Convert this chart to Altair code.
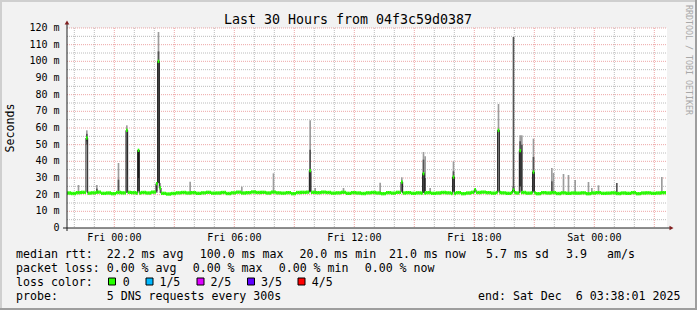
import altair as alt
import pandas as pd

# ---------------- data ----------------
title_text = "Last 30 Hours from 04f3c59d0387"
y_title = "Seconds"
watermark = "RRDTOOL / TOBI OETIKER"

range_start = "2025-12-04 21:38:01"
range_end = "2025-12-06 03:38:01"
first_step = "2025-12-04 21:35:00"   # 5-minute steps (300 s probe)

y_ticks = [0, 10, 20, 30, 40, 50, 60, 70, 80, 90, 100, 110, 120]
y_tick_labels = ["0", "10 m", "20 m", "30 m", "40 m", "50 m", "60 m", "70 m",
                 "80 m", "90 m", "100 m", "110 m", "120 m"]
x_ticks = ["2025-12-05 00:00", "2025-12-05 06:00", "2025-12-05 12:00",
           "2025-12-05 18:00", "2025-12-06 00:00"]
x_tick_labels = ["Fri 00:00", "Fri 06:00", "Fri 12:00", "Fri 18:00", "Sat 00:00"]

# baseline median rtt (ms), one value per 15 minutes from Thu 21:35
base_median = [
    21.0, 20.7, 21.2, 21.4, 20.9, 21.1, 21.5, 20.8, 21.0, 20.6, 21.3, 21.1,
    21.4, 21.2, 20.9, 21.3, 21.0, 21.5, 21.2, 20.8, 20.4, 20.7, 21.1, 21.3,
    21.0, 21.2, 20.8, 21.1, 21.4, 20.9, 21.0, 21.3, 20.7, 21.1, 21.5, 21.0,
    21.2, 21.6, 21.3, 21.4, 21.0, 21.5, 21.1, 20.9, 21.2, 20.6, 21.3, 21.4,
    21.5, 21.4, 21.2, 21.5, 21.3, 20.9, 21.1, 21.4, 20.8, 21.2, 21.0, 20.7,
    21.1, 21.3, 21.0, 20.6, 21.2, 20.9, 21.4, 21.0, 21.2, 20.8, 21.1, 20.9,
    21.2, 20.8, 21.0, 21.3, 21.1, 20.7, 21.2, 20.6, 21.0, 21.4, 21.3, 21.5,
    21.2, 20.9, 21.3, 21.1, 20.8, 21.2, 21.0, 21.3, 20.9, 21.1, 20.6, 21.2,
    21.0, 21.2, 20.7, 21.1, 20.8, 21.0, 20.9, 21.1, 20.6, 21.0, 21.2, 20.8,
    20.9, 21.1, 20.7, 21.0, 20.8, 21.2, 20.6, 21.0, 21.1, 20.8, 21.0, 21.2,
]

# 5-minute steps whose median departs from the baseline
spike_time = ["2025-12-04 22:35", "2025-12-05 00:35", "2025-12-05 01:10",
              "2025-12-05 02:05", "2025-12-05 02:10", "2025-12-05 02:15",
              "2025-12-05 09:45", "2025-12-05 14:20", "2025-12-05 15:25",
              "2025-12-05 16:55", "2025-12-05 18:00", "2025-12-05 19:10",
              "2025-12-05 19:55", "2025-12-05 20:15", "2025-12-05 20:55"]
spike_median = [54.0, 58.6, 46.6, 26.6, 100.0, 24.0, 34.4, 27.6, 32.6,
                30.6, 23.0, 58.6, 22.8, 46.4, 33.6]

# smoke (spread of the 5 pings): step start, low, high, shade
smoke = [
    ("2025-12-04 22:10", 20.5, 25.8, "L"),
    ("2025-12-04 22:35", 50.0, 58.6, "L"),
    ("2025-12-04 22:35", 52.0, 56.5, "M"),
    ("2025-12-04 23:05", 20.5, 25.8, "L"),
    ("2025-12-04 23:05", 21.0, 23.6, "M"),
    ("2025-12-05 00:10", 22.0, 39.0, "L"),
    ("2025-12-05 00:10", 22.0, 29.0, "M"),
    ("2025-12-05 00:35", 21.0, 61.6, "L"),
    ("2025-12-05 00:35", 32.0, 58.6, "D"),
    ("2025-12-05 01:10", 22.0, 30.0, "M"),
    ("2025-12-05 01:10", 30.0, 46.6, "D"),
    ("2025-12-05 02:05", 21.0, 27.2, "L"),
    ("2025-12-05 02:05", 22.0, 26.6, "M"),
    ("2025-12-05 02:10", 27.0, 117.6, "L"),
    ("2025-12-05 02:10", 27.0, 106.0, "M"),
    ("2025-12-05 02:10", 27.0, 100.0, "D"),
    ("2025-12-05 02:15", 21.0, 27.0, "L"),
    ("2025-12-05 03:45", 21.0, 27.8, "L"),
    ("2025-12-05 06:20", 21.0, 24.8, "L"),
    ("2025-12-05 07:55", 21.0, 32.8, "L"),
    ("2025-12-05 09:45", 22.0, 64.6, "L"),
    ("2025-12-05 09:45", 22.0, 47.0, "M"),
    ("2025-12-05 09:45", 22.0, 34.4, "D"),
    ("2025-12-05 10:00", 21.0, 24.0, "L"),
    ("2025-12-05 11:25", 21.0, 24.0, "L"),
    ("2025-12-05 13:15", 21.0, 27.2, "L"),
    ("2025-12-05 14:20", 22.0, 30.4, "L"),
    ("2025-12-05 14:20", 22.0, 27.6, "D"),
    ("2025-12-05 15:25", 21.0, 45.6, "L"),
    ("2025-12-05 15:25", 21.0, 41.0, "M"),
    ("2025-12-05 15:25", 21.0, 33.0, "D"),
    ("2025-12-05 15:30", 22.0, 43.0, "L"),
    ("2025-12-05 15:30", 22.0, 30.0, "M"),
    ("2025-12-05 15:45", 21.0, 24.0, "L"),
    ("2025-12-05 16:55", 22.0, 40.0, "L"),
    ("2025-12-05 16:55", 22.0, 34.0, "M"),
    ("2025-12-05 16:55", 22.0, 30.6, "D"),
    ("2025-12-05 19:10", 22.0, 74.4, "L"),
    ("2025-12-05 19:10", 22.0, 58.6, "D"),
    ("2025-12-05 19:55", 22.0, 114.6, "M"),
    ("2025-12-05 19:55", 22.0, 25.0, "D"),
    ("2025-12-05 20:15", 25.0, 55.6, "L"),
    ("2025-12-05 20:15", 25.0, 52.0, "M"),
    ("2025-12-05 20:15", 25.0, 46.4, "D"),
    ("2025-12-05 20:20", 22.0, 55.6, "L"),
    ("2025-12-05 20:20", 22.0, 50.0, "M"),
    ("2025-12-05 20:55", 22.0, 53.6, "L"),
    ("2025-12-05 20:55", 22.0, 42.6, "M"),
    ("2025-12-05 20:55", 22.0, 33.6, "D"),
    ("2025-12-05 21:50", 21.0, 36.0, "L"),
    ("2025-12-05 21:50", 21.0, 28.0, "M"),
    ("2025-12-05 21:55", 21.0, 33.0, "L"),
    ("2025-12-05 22:25", 21.0, 32.4, "L"),
    ("2025-12-05 22:40", 21.0, 31.8, "L"),
    ("2025-12-05 23:00", 21.0, 28.8, "L"),
    ("2025-12-05 23:40", 21.0, 27.6, "L"),
    ("2025-12-05 23:50", 21.0, 24.0, "L"),
    ("2025-12-06 00:10", 21.0, 25.6, "L"),
    ("2025-12-06 01:05", 21.0, 27.0, "M"),
    ("2025-12-06 03:20", 21.0, 30.6, "L"),
]

legend_rows = [
    ["median rtt:", "22.2 ms avg", "100.0 ms max", "20.0 ms min", "21.0 ms now",
     "5.7 ms sd", "3.9", "am/s"],
    ["packet loss:", "0.00 % avg", "0.00 % max", "0.00 % min", "0.00 % now"],
    ["loss color:", "0", "1/5", "2/5", "3/5", "4/5"],
    ["probe:", "5 DNS requests every 300s", "end: Sat Dec  6 03:38:01 2025"],
]
loss_colors = ["#26ff00", "#00b8ff", "#dd00ff", "#5e00ff", "#ff0000"]

# ---------------- layout (pixels) ----------------
W, H = 600, 200
PAD = {"left": 67, "top": 28, "right": 30, "bottom": 82}
FONT = "DejaVu Sans Mono"
legend_x = [
    [16, 106.7, 199.8, 299.4, 389, 486, 566, 607],
    [16, 106.7, 192.7, 278.7, 364.7],
    [16, 122.7, 159.4, 210.4, 261, 311.7],
    [16, 106.7, 478],
]
legend_y = [258, 271.8, 285.7, 299.7]
square_x = [108.5, 146, 197, 247.5, 298]

# ---------------- build tables ----------------
step = pd.Timedelta(minutes=5)
t_first = pd.Timestamp(first_step)


def iso(ts):
    return pd.Timestamp(ts).strftime("%Y-%m-%dT%H:%M:%SZ")


def dt(ts):
    ts = pd.Timestamp(ts)
    return alt.DateTime(year=ts.year, month=ts.month, date=ts.day,
                        hours=ts.hour, minutes=ts.minute, seconds=ts.second,
                        utc=True)


n = len(base_median) * 3
med = [base_median[k // 3] for k in range(n)]
for t, m in zip(spike_time, spike_median):
    med[int((pd.Timestamp(t) - t_first) / step)] = m
starts = [t_first + k * step for k in range(n)]

steps_df = pd.DataFrame({
    "t0": [iso(t) for t in starts],
    "t1": [iso(t + step) for t in starts],
    "lo": [m - 1.0 for m in med],
    "hi": [m + 1.0 for m in med],
})
line_df = pd.DataFrame({
    "t": [iso(t) for t in starts] + [iso(starts[-1] + step)],
    "median": med + [med[-1]],
})
smoke_df = pd.DataFrame({
    "t0": [iso(s[0]) for s in smoke],
    "t1": [iso(pd.Timestamp(s[0]) + step) for s in smoke],
    "lo": [s[1] for s in smoke],
    "hi": [s[2] for s in smoke],
    "shade": [s[3] for s in smoke],
})
ytick_df = pd.DataFrame({"v": y_ticks, "label": y_tick_labels})
xtick_df = pd.DataFrame({"t": [iso(t) for t in x_ticks], "label": x_tick_labels})

hours = pd.date_range("2025-12-04 22:00", "2025-12-06 03:00", freq="h")
vgrid_minor = pd.DataFrame({"t": [iso(h) for h in hours if h.hour % 3 != 0]})
vgrid_major = pd.DataFrame({"t": [iso(h) for h in hours if h.hour % 3 == 0]})
hgrid_minor = pd.DataFrame({"v": [v for v in range(5, 121, 5) if v % 10]})
hgrid_major = pd.DataFrame({"v": [v for v in range(10, 121, 10)]})
dummy = pd.DataFrame({"d": [0]})

xs = alt.Scale(type="utc", domain=[dt(range_start), dt(range_end)])
ys = alt.Scale(domain=[0, 120], nice=False, zero=False)

layers = []

# grid
layers.append(alt.Chart(vgrid_minor).mark_rule(color="#8f8f8f", opacity=0.6, strokeDash=[1, 1]).encode(
    x=alt.X("t:T", scale=xs, axis=None), y=alt.value(0), y2=alt.value(H)))
layers.append(alt.Chart(hgrid_minor).mark_rule(color="#8f8f8f", opacity=0.6, strokeDash=[1, 1]).encode(
    y=alt.Y("v:Q", scale=ys, axis=None), x=alt.value(0), x2=alt.value(W)))
layers.append(alt.Chart(vgrid_major).mark_rule(color="#de4f4f", opacity=0.5, strokeDash=[1, 1]).encode(
    x=alt.X("t:T", scale=xs, axis=None), y=alt.value(0), y2=alt.value(H)))
layers.append(alt.Chart(hgrid_major).mark_rule(color="#de4f4f", opacity=0.5, strokeDash=[1, 1]).encode(
    y=alt.Y("v:Q", scale=ys, axis=None), x=alt.value(0), x2=alt.value(W)))

# smoke
layers.append(alt.Chart(smoke_df).mark_rect(clip=True).encode(
    x=alt.X("t0:T", scale=xs, axis=None), x2="t1:T",
    y=alt.Y("lo:Q", scale=ys, axis=None), y2="hi:Q",
    color=alt.Color("shade:N", scale=alt.Scale(domain=["L", "M", "D"],
                                               range=["#9c9c9c", "#555555", "#1e1e1e"]),
                    legend=None),
    order=alt.Order("shade:N")))

# median line (dark) and loss-coloured median band
layers.append(alt.Chart(line_df).mark_line(interpolate="step-after", color="#1a1a1a",
                                           strokeWidth=1, clip=True).encode(
    x=alt.X("t:T", scale=xs, axis=None), y=alt.Y("median:Q", scale=ys, axis=None)))
layers.append(alt.Chart(steps_df).mark_rect(color=loss_colors[0], clip=True).encode(
    x=alt.X("t0:T", scale=xs, axis=None), x2="t1:T",
    y=alt.Y("lo:Q", scale=ys, axis=None), y2="hi:Q"))

# tick labels
layers.append(alt.Chart(ytick_df).mark_text(font=FONT, fontSize=10, color="#000000",
                                            align="right", baseline="middle").encode(
    y=alt.Y("v:Q", scale=ys, axis=None), x=alt.value(-7.5), text="label:N"))
layers.append(alt.Chart(xtick_df).mark_text(font=FONT, fontSize=10, color="#000000",
                                            align="center", baseline="alphabetic").encode(
    x=alt.X("t:T", scale=xs, axis=None), y=alt.value(240.7 - PAD["top"]), text="label:N"))

# axis lines and arrows
layers.append(alt.Chart(dummy).mark_rule(color="#1f1f1f", strokeWidth=1).encode(
    x=alt.value(-4), x2=alt.value(W + 3), y=alt.value(H)))
layers.append(alt.Chart(dummy).mark_rule(color="#1f1f1f", strokeWidth=1).encode(
    x=alt.value(0), y=alt.value(H + 3), y2=alt.value(-4)))
layers.append(alt.Chart(dummy).mark_point(shape="triangle-right", filled=True, size=22,
                                          color="#801f1f", opacity=1).encode(
    x=alt.value(W + 4.5), y=alt.value(H)))
layers.append(alt.Chart(dummy).mark_point(shape="triangle-up", filled=True, size=22,
                                          color="#801f1f", opacity=1).encode(
    x=alt.value(0), y=alt.value(-5.5)))

# title, axis title, watermark
layers.append(alt.Chart(dummy).mark_text(font=FONT, fontSize=13.3, color="#000000",
                                         align="center", baseline="alphabetic").encode(
    x=alt.value(348 - PAD["left"]), y=alt.value(24 - PAD["top"]), text=alt.value(title_text)))
layers.append(alt.Chart(dummy).mark_text(font=FONT, fontSize=11.6, color="#000000",
                                         align="center", baseline="middle", angle=270).encode(
    x=alt.value(11 - PAD["left"]), y=alt.value(128 - PAD["top"]), text=alt.value(y_title)))
layers.append(alt.Chart(dummy).mark_text(font=FONT, fontSize=8.3, color="#a8a8a8",
                                         align="left", baseline="middle", angle=90).encode(
    x=alt.value(688 - PAD["left"]), y=alt.value(5 - PAD["top"]), text=alt.value(watermark)))

# legend text
for row, xs_row, yb in zip(legend_rows, legend_x, legend_y):
    for txt, px in zip(row, xs_row):
        layers.append(alt.Chart(dummy).mark_text(font=FONT, fontSize=11.6, color="#000000",
                                                 align="left", baseline="alphabetic").encode(
            x=alt.value(px - PAD["left"]), y=alt.value(yb - PAD["top"]),
            text=alt.value(txt.replace(" ", "\u00a0"))))
for col, sx in zip(loss_colors, square_x):
    layers.append(alt.Chart(dummy).mark_rect(color=col, stroke="#000000", strokeWidth=1).encode(
        x=alt.value(sx - PAD["left"]), x2=alt.value(sx + 7 - PAD["left"]),
        y=alt.value(278 - PAD["top"]), y2=alt.value(285 - PAD["top"])))

# 3D frame
frame = [(0, 697, 0, 2, "#cfcfcf"), (0, 2, 0, 310, "#cfcfcf"),
         (695, 697, 0, 310, "#9e9e9e"), (0, 697, 308, 310, "#9e9e9e")]
for x0, x1, y0, y1, c in frame:
    layers.append(alt.Chart(dummy).mark_rect(color=c).encode(
        x=alt.value(x0 - PAD["left"]), x2=alt.value(x1 - PAD["left"]),
        y=alt.value(y0 - PAD["top"]), y2=alt.value(y1 - PAD["top"])))

chart = alt.layer(*layers).properties(
    width=W, height=H, padding=PAD,
    autosize=alt.AutoSizeParams(type="none"),
    background="#f2f2f2",
).configure_view(fill="white", strokeWidth=0)

chart.save("out.html", embed_options={"renderer": "svg", "actions": False})
